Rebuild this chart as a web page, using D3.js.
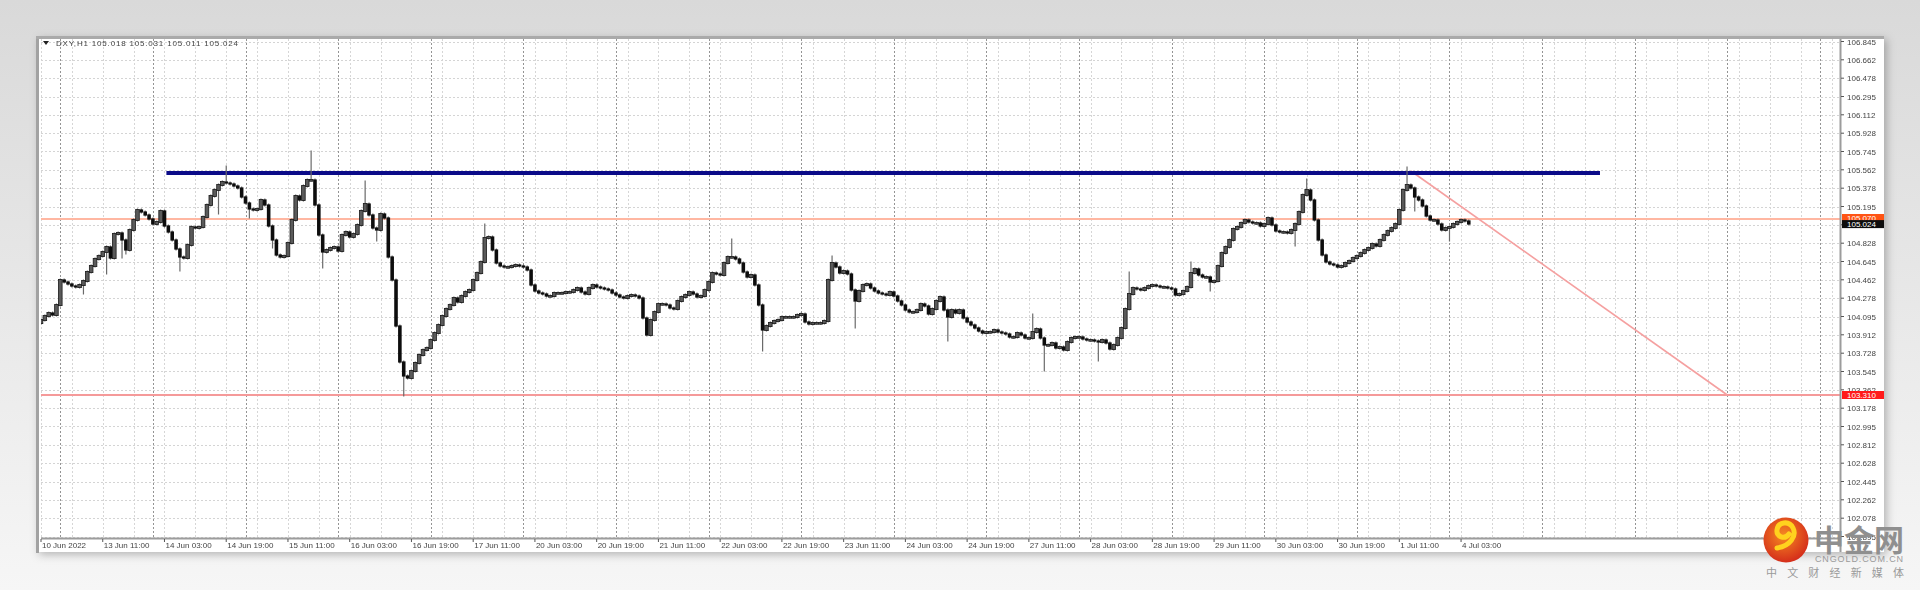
<!DOCTYPE html>
<html><head><meta charset="utf-8">
<script src="https://cdn.jsdelivr.net/npm/d3@7"></script>
<style>html,body{margin:0;padding:0;width:1920px;height:590px;overflow:hidden;background:#e4e4e4}</style>
</head><body><svg id="c" width="1920" height="590"></svg>
<script>
// ---------------- DATA ----------------
const symbolTitle = "DXY,H1  105.018 105.031 105.011 105.024";
const firstBarTime = "2022-06-10T19:00";
const firstOpen = 104.03;
const closes = [
104.06,104.10,104.13,104.11,104.21,104.46,104.44,104.42,104.40,104.39,
104.41,104.45,104.54,104.60,104.67,104.70,104.74,104.79,104.68,104.92,
104.93,104.86,104.76,104.96,105.06,105.16,105.14,105.11,105.07,105.02,
105.04,105.15,105.00,104.94,104.86,104.77,104.69,104.68,104.81,104.99,
104.98,104.99,105.09,105.21,105.30,105.36,105.41,105.44,105.43,105.42,
105.40,105.38,105.29,105.23,105.17,105.16,105.17,105.26,105.21,105.00,
104.86,104.71,104.69,104.70,104.83,105.06,105.30,105.26,105.40,105.46,
105.46,105.21,104.91,104.74,104.76,104.78,104.79,104.75,104.91,104.94,
104.89,104.92,105.01,105.15,105.22,105.11,104.98,104.96,105.12,105.08,
104.69,104.46,104.00,103.64,103.50,103.48,103.55,103.63,103.71,103.76,
103.78,103.86,103.93,104.01,104.10,104.17,104.21,104.28,104.24,104.30,
104.34,104.36,104.46,104.53,104.64,104.88,104.89,104.76,104.63,104.60,
104.59,104.59,104.60,104.61,104.60,104.59,104.56,104.41,104.35,104.33,
104.32,104.30,104.30,104.33,104.33,104.33,104.34,104.34,104.36,104.38,
104.34,104.32,104.38,104.41,104.39,104.38,104.37,104.36,104.33,104.31,
104.29,104.28,104.30,104.31,104.30,104.28,104.08,103.91,104.06,104.14,
104.22,104.22,104.21,104.18,104.17,104.25,104.29,104.31,104.34,104.32,
104.29,104.30,104.36,104.44,104.53,104.52,104.51,104.63,104.69,104.69,
104.67,104.63,104.54,104.49,104.51,104.41,104.21,103.96,104.00,104.03,
104.05,104.06,104.09,104.09,104.09,104.09,104.11,104.12,104.04,104.02,
104.03,104.03,104.03,104.05,104.46,104.63,104.59,104.53,104.55,104.52,
104.36,104.25,104.35,104.41,104.42,104.38,104.35,104.33,104.32,104.31,
104.34,104.30,104.25,104.21,104.16,104.14,104.14,104.16,104.22,104.20,
104.12,104.17,104.25,104.29,104.16,104.09,104.16,104.13,104.16,104.08,
104.04,104.01,103.98,103.95,103.93,103.94,103.94,103.96,103.94,103.93,
103.92,103.89,103.89,103.93,103.91,103.88,103.88,103.94,103.97,103.88,
103.81,103.81,103.83,103.78,103.79,103.76,103.84,103.88,103.89,103.89,
103.87,103.86,103.86,103.85,103.84,103.86,103.83,103.77,103.81,103.88,
103.98,104.17,104.32,104.38,104.37,104.36,104.38,104.40,104.41,104.40,
104.39,104.39,104.38,104.37,104.31,104.32,104.35,104.39,104.53,104.57,
104.51,104.49,104.49,104.44,104.45,104.60,104.73,104.79,104.86,104.97,
104.99,105.03,105.06,105.04,105.03,105.03,105.00,105.02,105.08,105.01,
104.95,104.94,104.94,104.93,104.96,105.02,105.14,105.31,105.36,105.26,
105.06,104.86,104.71,104.64,104.62,104.61,104.59,104.60,104.63,104.65,
104.68,104.70,104.73,104.76,104.78,104.82,104.80,104.86,104.91,104.95,
104.98,105.02,105.16,105.36,105.41,105.38,105.29,105.26,105.20,105.10,
105.06,105.06,105.02,104.96,104.98,104.99,105.02,105.04,105.06,105.05,
105.02];
// visible long wicks (bar index, wick-end price)
const wickBars   = [11,17,21,22,36,46,48,54,60,70,73,84,87,94,115,179,187,205,211,235,257,260,274,282,298,303,325,328,354,356,365];
const wickPrices = [104.33,104.53,104.69,104.73,104.56,105.13,105.59,105.09,104.79,105.74,104.59,105.44,104.86,103.31,105.01,104.86,103.76,104.69,103.99,103.86,104.11,103.56,103.66,104.53,104.63,104.36,104.81,105.46,105.58,105.16,104.86];

const timeLabels = ["10 Jun 2022","13 Jun 11:00","14 Jun 03:00","14 Jun 19:00","15 Jun 11:00","16 Jun 03:00",
 "16 Jun 19:00","17 Jun 11:00","20 Jun 03:00","20 Jun 19:00","21 Jun 11:00","22 Jun 03:00","22 Jun 19:00",
 "23 Jun 11:00","24 Jun 03:00","24 Jun 19:00","27 Jun 11:00","28 Jun 03:00","28 Jun 19:00","29 Jun 11:00",
 "30 Jun 03:00","30 Jun 19:00","1 Jul 11:00","4 Jul 03:00"];
const barsPerLabel = 16;
const barsPerGrid = 8;
const totalBarSlots = 466.2;

const priceTicks = ["106.845","106.662","106.478","106.295","106.112","105.928","105.745","105.562","105.378",
 "105.195","105.012","104.828","104.645","104.462","104.278","104.095","103.912","103.728","103.545",
 "103.362","103.178","102.995","102.812","102.628","102.445","102.262","102.078","101.895"];
const priceMin = 101.88, priceMax = 106.87;

const resistanceLevel = {price: 105.53, fromBar: 32.5, toBar: 404};
const upperLevel = 105.07;
const supportLevel = 103.31;
const trendLine = {bar1: 355, price1: 105.55, bar2: 437, price2: 103.31};
const bidPrice = "105.024";

// ---------------- LAYOUT ----------------
const L = 41, R = 1840, T = 39, B = 538;
const svg = d3.select("#c");
const defs = svg.append("defs");

const bg = defs.append("linearGradient").attr("id","bg").attr("x1",0).attr("y1",0).attr("x2",0).attr("y2",1);
bg.append("stop").attr("offset","0").attr("stop-color","#d9d9d9");
bg.append("stop").attr("offset","0.55").attr("stop-color","#e9e9e9");
bg.append("stop").attr("offset","1").attr("stop-color","#f6f6f6");
const sh = defs.append("filter").attr("id","sh").attr("x","-5%").attr("y","-5%").attr("width","110%").attr("height","115%");
sh.append("feDropShadow").attr("dx",3).attr("dy",3).attr("stdDeviation",4).attr("flood-color","#000").attr("flood-opacity",0.25);
const soft = defs.append("filter").attr("id","soft");
soft.append("feGaussianBlur").attr("stdDeviation",0.5);
const lg = defs.append("radialGradient").attr("id","logo").attr("cx","0.45").attr("cy","0.4").attr("r","0.65");
lg.append("stop").attr("offset","0").attr("stop-color","#f58a22");
lg.append("stop").attr("offset","1").attr("stop-color","#d2261a");
defs.append("clipPath").attr("id","plot").append("rect").attr("x",L).attr("y",T).attr("width",R-L).attr("height",B-T);

svg.append("rect").attr("width",1920).attr("height",590).attr("fill","url(#bg)");
svg.append("rect").attr("x",36).attr("y",36).attr("width",1848).attr("height",516).attr("fill","#fff").attr("filter","url(#sh)");
svg.append("line").attr("x1",37.5).attr("x2",37.5).attr("y1",36).attr("y2",553).attr("stroke","#a2a2a2").attr("stroke-width",3);
svg.append("line").attr("x1",36).attr("x2",1884).attr("y1",37.5).attr("y2",37.5).attr("stroke","#aaaaaa").attr("stroke-width",3);

const x = d3.scaleLinear().domain([0,totalBarSlots]).range([L,R]);
const y = d3.scaleLinear().domain([priceMin,priceMax]).range([B,T]);

// bar times (skip weekends) -> day separators
const t0 = new Date(firstBarTime);
const times = [];
let t = new Date(t0);
while (times.length < Math.ceil(totalBarSlots)) {
  const dow = t.getDay();
  if (dow !== 0 && dow !== 6) times.push(new Date(t));
  t = d3.timeHour.offset(t,1);
}

const g = svg.append("g").attr("clip-path","url(#plot)");
// horizontal grid
g.selectAll(".hg").data(priceTicks).join("line")
  .attr("x1",L).attr("x2",R).attr("y1",d=>Math.round(y(+d))+0.5).attr("y2",d=>Math.round(y(+d))+0.5)
  .attr("stroke","#d4d4d4").attr("stroke-dasharray","2,2");
// vertical grid every 8 bars
const gridBars = d3.range(0, totalBarSlots, barsPerGrid);
g.selectAll(".vg").data(gridBars).join("line")
  .attr("x1",d=>Math.round(x(d))+0.5).attr("x2",d=>Math.round(x(d))+0.5).attr("y1",T).attr("y2",B)
  .attr("stroke","#d6d6d6").attr("stroke-dasharray","2,2");
// day separators
const sepBars = times.map((d,i)=>d.getHours()===0?i:null).filter(d=>d!==null);
g.selectAll(".ds").data(sepBars).join("line")
  .attr("x1",d=>Math.round(x(d))+0.5).attr("x2",d=>Math.round(x(d))+0.5).attr("y1",T).attr("y2",B)
  .attr("stroke","#949494").attr("stroke-dasharray","2,2");

// levels
g.append("line").attr("x1",L).attr("x2",R).attr("y1",y(upperLevel)).attr("y2",y(upperLevel))
  .attr("stroke","#ffb7a2").attr("stroke-width",2);
g.append("line").attr("x1",L).attr("x2",R).attr("y1",y(supportLevel)).attr("y2",y(supportLevel))
  .attr("stroke","#f59a9a").attr("stroke-width",2);
g.append("line").attr("x1",x(trendLine.bar1)).attr("x2",x(trendLine.bar2))
  .attr("y1",y(trendLine.price1)).attr("y2",y(trendLine.price2))
  .attr("stroke","#f5a0a0").attr("stroke-width",1.6);
g.append("line").attr("x1",x(resistanceLevel.fromBar)).attr("x2",x(resistanceLevel.toBar))
  .attr("y1",y(resistanceLevel.price)).attr("y2",y(resistanceLevel.price))
  .attr("stroke","#0b0b88").attr("stroke-width",4);

// candles
const wickMap = new Map(wickBars.map((b,i)=>[b,wickPrices[i]]));
const candles = closes.map((c,i)=>{
  const o = i===0?firstOpen:closes[i-1];
  let h = Math.max(o,c), l = Math.min(o,c);
  if (wickMap.has(i)) { const w = wickMap.get(i); if (w>h) h=w; if (w<l) l=w; }
  return {i,o,c,h,l};
});
const cg = g.append("g").attr("filter","url(#soft)");
cg.selectAll(".wk").data(candles).join("line")
  .attr("x1",d=>x(d.i)).attr("x2",d=>x(d.i)).attr("y1",d=>y(d.h)-1.5).attr("y2",d=>y(d.l)+1.5)
  .attr("stroke","#6a6a6a").attr("stroke-width",1.2);
cg.selectAll(".bd").data(candles).join("rect")
  .attr("x",d=>x(d.i)-1.8).attr("width",3.6)
  .attr("y",d=>y(Math.max(d.o,d.c))-0.6).attr("height",d=>Math.max(1.8,Math.abs(y(d.o)-y(d.c))+1.2))
  .attr("fill",d=>d.c>=d.o?"#5a5a5a":"#111").attr("stroke",d=>d.c>=d.o?"#1a1a1a":"none").attr("stroke-width",0.8);

// axes
svg.append("line").attr("x1",R+0.5).attr("x2",R+0.5).attr("y1",T).attr("y2",552).attr("stroke","#9c9c9c").attr("stroke-width",2);
svg.append("line").attr("x1",L).attr("x2",R).attr("y1",B+0.5).attr("y2",B+0.5).attr("stroke","#9c9c9c").attr("stroke-width",2);

// tick labels hidden behind the live price boxes are not drawn (as in the terminal)
const shownTicks = priceTicks.filter(d=>Math.abs(y(+d)-y(upperLevel))>9);
const ya = svg.append("g").attr("filter","url(#soft)");
ya.selectAll("line").data(priceTicks).join("line")
  .attr("x1",R+1).attr("x2",R+4).attr("y1",d=>y(+d)).attr("y2",d=>y(+d)).attr("stroke","#555");
ya.selectAll("text").data(shownTicks).join("text")
  .attr("x",R+7).attr("y",d=>y(+d)+3).text(d=>d)
  .attr("font-family","Liberation Sans, Arial").attr("font-size",8).attr("fill","#444");

function priceBox(val, label, fill, dy){
  const yy = y(val)+dy;
  svg.append("rect").attr("x",R+2).attr("y",yy-4).attr("width",42).attr("height",8).attr("fill",fill);
  svg.append("text").attr("x",R+7).attr("y",yy+3).text(label)
    .attr("font-family","Liberation Sans, Arial").attr("font-size",8).attr("fill","#fff");
}
priceBox(upperLevel, upperLevel.toFixed(3), "#ff5414", -1);
priceBox(+bidPrice, bidPrice, "#0d0d0d", 0.5);
priceBox(supportLevel, supportLevel.toFixed(3), "#ff1a1a", 0);

const xa = svg.append("g").attr("filter","url(#soft)");
const labelBars = timeLabels.map((d,i)=>i*barsPerLabel);
xa.selectAll("line").data(labelBars).join("line")
  .attr("x1",d=>x(d)).attr("x2",d=>x(d)).attr("y1",B+1).attr("y2",B+4).attr("stroke","#555");
xa.selectAll("text").data(timeLabels).join("text")
  .attr("x",(d,i)=>x(labelBars[i])+1).attr("y",B+10).text(d=>d)
  .attr("font-family","Liberation Sans, Arial").attr("font-size",8).attr("fill","#444");

// title
const tt = svg.append("g").attr("filter","url(#soft)");
tt.append("path").attr("d","M43,41 L49,41 L46,45 Z").attr("fill","#222");
tt.append("text").attr("x",56).attr("y",46).text(symbolTitle)
  .attr("font-family","Liberation Sans, Arial").attr("font-size",8).attr("fill","#444").attr("textLength",182);

// watermark
const wm = svg.append("g");
wm.append("circle").attr("cx",1786).attr("cy",540).attr("r",22.5).attr("fill","url(#logo)");
wm.append("path").attr("d","M1777,548 C1790,546 1797,536 1793,528 C1789,520 1778,522 1777,530 C1776,537 1785,540 1789,534")
  .attr("fill","none").attr("stroke","#ffd21e").attr("stroke-width",5).attr("stroke-linecap","round");
wm.append("text").attr("x",1814).attr("y",551).text("中金网")
  .attr("font-family","Noto Sans CJK SC").attr("font-weight",700).attr("font-size",30).attr("fill","#8f8f8f")
  .attr("textLength",90);
wm.append("text").attr("x",1815).attr("y",562).text("CNGOLD.COM.CN")
  .attr("font-family","Liberation Sans, Arial").attr("font-size",9).attr("fill","#9a9a9a").attr("textLength",88);
wm.append("text").attr("x",1766).attr("y",577).text("中文财经新媒体")
  .attr("font-family","Noto Sans CJK SC").attr("font-size",11).attr("fill","#9a9a9a")
  .attr("textLength",138).attr("lengthAdjust","spacing");
</script></body></html>
